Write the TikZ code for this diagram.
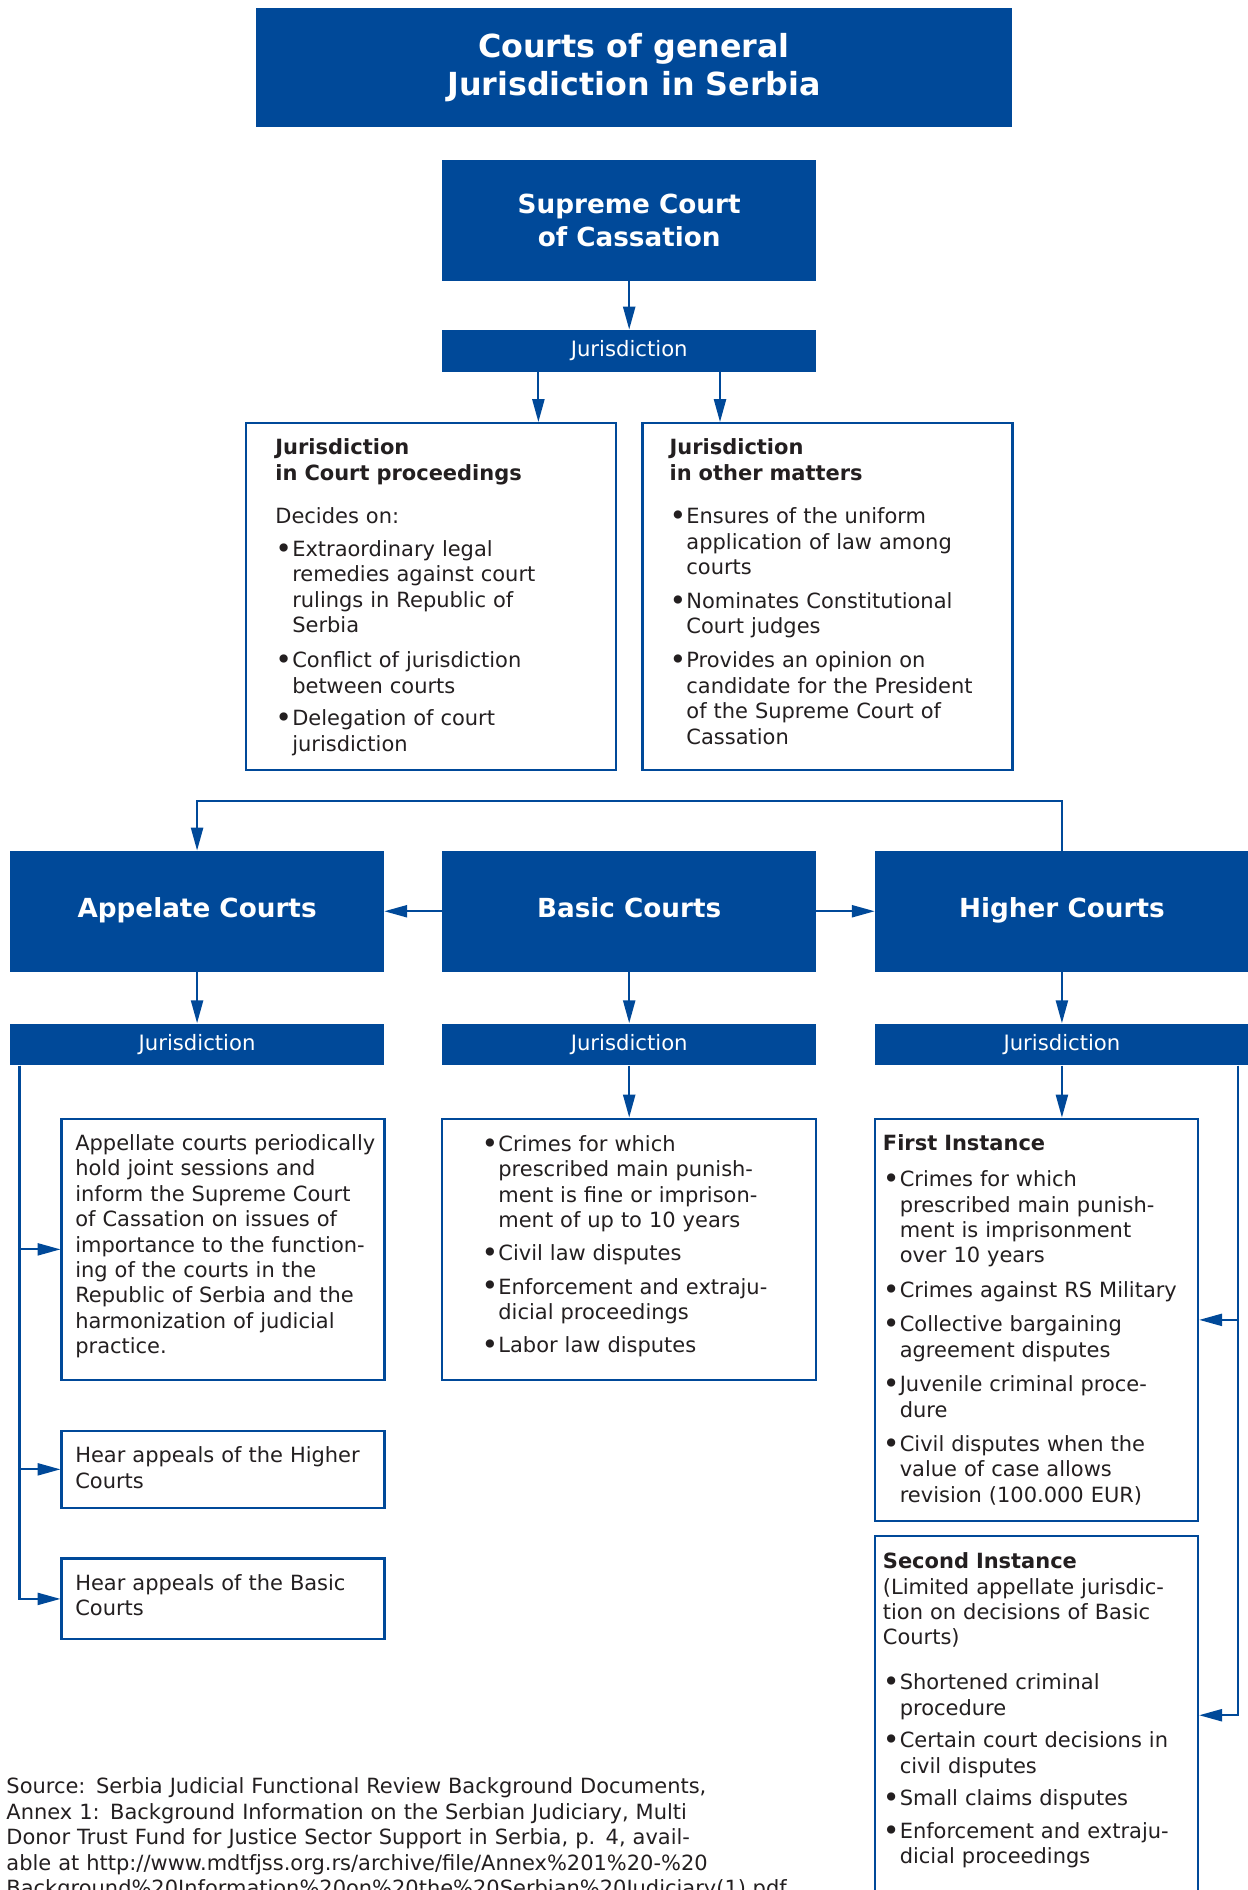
\documentclass[tikz,border=0pt]{standalone}
\usepackage{fontspec}
\setmainfont{DejaVu Sans}
\usepackage{xcolor}
\usepackage{graphicx}
\usetikzlibrary{positioning,arrows.meta}

\definecolor{courtblue}{RGB}{0,73,153}
\definecolor{inkgrey}{RGB}{35,31,32}
\newlength{\bulletw}
\setlength{\bulletw}{0.28cm}
\newcommand{\bitem}[2][0.14cm]{\par\vspace{#1}\hangindent=\bulletw\hangafter=1\noindent
  \makebox[\bulletw][l]{\raisebox{-0.08em}{\scalebox{1.35}{\textbullet}}}{\let\\\newline#2}\par}

\tikzset{
  court/.style={fill=courtblue, text=white, align=center, inner sep=0pt,
    minimum width=6.2cm, minimum height=2cm,
    font=\fontsize{12.4}{15.3}\selectfont\bfseries},
  courtrow/.style={court, text height=0.8em, text depth=0.25em},
  jurbar/.style={fill=courtblue, text=white, inner sep=0pt,
    minimum width=6.2cm, minimum height=0.69cm,
    font=\fontsize{10}{12}\selectfont},
  infobox/.style={draw=courtblue, line width=1pt, fill=white, inner sep=0pt},
  boxtext/.style={text=inkgrey, align=left, inner sep=0pt, text width=6.4cm,
    font=\fontsize{9.9}{12}\selectfont},
  feed/.style={draw=courtblue, line width=1pt, -{Triangle[length=0.38cm,width=0.2cm]}},
}

\begin{document}
\begin{tikzpicture}[x=0.02cm,y=-0.02cm]
\useasboundingbox (0,0) rectangle (1035,1568);

\node[court, minimum width=12.56cm, minimum height=1.96cm,
  font=\fontsize{15}{18.2}\selectfont\bfseries] (title) at (526,56) {Courts of general\\Jurisdiction in Serbia};
\node[court] (supreme) at (522,183) {Supreme Court\\of Cassation};
\node[jurbar] (topbar) at (522,291) {Jurisdiction};

\node[infobox, minimum width=6.14cm, minimum height=5.76cm] (procbox) at (357.5,495) {};
\node[infobox, minimum width=6.14cm, minimum height=5.76cm] (otherbox) at (686.5,495) {};
\node[boxtext, below right=0.274cm and 0.5cm of procbox.north west] (proctext) {%
  {\bfseries Jurisdiction\\in Court proceedings}\par\vspace{0.3cm}
  Decides on:
  \bitem[0.12cm]{Extraordinary legal\\remedies against court\\rulings in Republic of\\Serbia}
  \bitem[0.16cm]{Conflict of jurisdiction\\between courts}
  \bitem[0.12cm]{Delegation of court\\jurisdiction}};
\node[boxtext, below right=0.274cm and 0.46cm of otherbox.north west] (othertext) {%
  {\bfseries Jurisdiction\\in other matters}
  \bitem[0.3cm]{Ensures of the uniform\\application of law among\\courts}
  \bitem{Nominates Constitutional\\Court judges}
  \bitem{Provides an opinion on\\candidate for the President\\of the Supreme Court of\\Cassation}};

\node[courtrow] (appelate) at (163.5,756) {Appelate Courts};
\node[courtrow] (basic) at (522,756) {Basic Courts};
\node[courtrow] (higher) at (881,756) {Higher Courts};
\node[jurbar] (abar) at (163.5,866.5) {Jurisdiction};
\node[jurbar] (bbar) at (522,866.5) {Jurisdiction};
\node[jurbar] (hbar) at (881,866.5) {Jurisdiction};

% appelate courts
\node[infobox, minimum width=5.36cm, minimum height=4.34cm] (pracbox) at (185,1036.5) {};
\node[boxtext, below right=0.274cm and 0.24cm of pracbox.north west] (practext) {%
  Appellate courts periodically\\hold joint sessions and\\inform the Supreme Court\\of Cassation on issues of\\importance to the function-\\ing of the courts in the\\Republic of Serbia and the\\harmonization of judicial\\practice.};
\node[infobox, minimum width=5.36cm, minimum height=1.28cm] (higherapp) at (185,1219) {};
\node[boxtext, below right=0.274cm and 0.24cm of higherapp.north west] (higherapptext) {Hear appeals of the Higher\\Courts};
\node[infobox, minimum width=5.36cm, minimum height=1.34cm] (basicapp) at (185,1326.5) {};
\node[boxtext, below right=0.274cm and 0.24cm of basicapp.north west] (basicapptext) {Hear appeals of the Basic\\Courts};

% basic courts
\node[infobox, minimum width=6.2cm, minimum height=4.34cm] (basicbox) at (522,1036.5) {};
\node[boxtext, below right=0.134cm and 0.66cm of basicbox.north west] (basictext) {%
  \bitem[0pt]{Crimes for which\\prescribed main punish-\\ment is fine or imprison-\\ment of up to 10 years}
  \bitem[0.13cm]{Civil law disputes}
  \bitem[0.13cm]{Enforcement and extraju-\\dicial proceedings}
  \bitem[0.13cm]{Labor law disputes}};

% higher courts
\node[infobox, minimum width=5.36cm, minimum height=6.68cm] (firstbox) at (860,1095) {};
\node[boxtext, below right=0.274cm and 0.14cm of firstbox.north west] (firsttext) {%
  {\bfseries First Instance}
  \bitem[0.18cm]{Crimes for which\\prescribed main punish-\\ment is imprisonment\\over 10 years}
  \bitem[0.15cm]{Crimes against RS Military}
  \bitem[0.15cm]{Collective bargaining\\agreement disputes}
  \bitem[0.15cm]{Juvenile criminal proce-\\dure}
  \bitem[0.15cm]{Civil disputes when the\\value of case allows\\revision (100.000 EUR)}};
\node[infobox, minimum width=5.36cm, minimum height=5.96cm] (secondbox) at (860,1423) {};
\node[boxtext, below right=0.294cm and 0.14cm of secondbox.north west] (secondtext) {%
  {\bfseries Second Instance}\\(Limited appellate jurisdic-\\tion on decisions of Basic\\Courts)
  \bitem[0.32cm]{Shortened criminal\\procedure}
  \bitem[0.12cm]{Certain court decisions in\\civil disputes}
  \bitem[0.12cm]{Small claims disputes}
  \bitem[0.12cm]{Enforcement and extraju-\\dicial proceedings}};

\node[boxtext, text width=13cm, anchor=north west] (source) at (5,1474.7) {%
  Source: Serbia Judicial Functional Review Background Documents,\\Annex 1: Background Information on the Serbian Judiciary, Multi\\Donor Trust Fund for Justice Sector Support in Serbia, p. 4, avail-\\able at http://www.mdtfjss.org.rs/archive/file/Annex\%201\%20-\%20\\Background\%20Information\%20on\%20the\%20Serbian\%20Judiciary(1).pdf};

\draw[feed] (supreme) -- (topbar);
\coordinate (tapl) at ([xshift=1.6cm]topbar.south west);
\coordinate (tapr) at ([xshift=-1.6cm]topbar.south east);
\draw[feed] (tapl) -- (tapl |- procbox.north);
\draw[feed] (tapr) -- (tapr |- otherbox.north);

\draw[feed] (higher.north) -- ++(0,-41) -| (appelate.north);
\draw[feed] (basic.west) -- (appelate.east);
\draw[feed] (basic.east) -- (higher.west);

\draw[feed] (appelate) -- (abar);
\draw[feed] (basic) -- (bbar);
\draw[feed] (higher) -- (hbar);

\coordinate (aleg) at ([xshift=0.16cm]abar.south west);
\draw[feed] (aleg) |- (pracbox.west);
\draw[feed] (aleg) |- (higherapp.west);
\draw[feed] (aleg) |- (basicapp.west);

\draw[feed] (bbar) -- (basicbox);

\coordinate (hleg) at ([xshift=-0.18cm]hbar.south east);
\draw[feed] (hbar.south) -- (hbar.south |- firstbox.north);
\draw[feed] (hleg) |- (firstbox.east);
\draw[feed] (hleg) |- (secondbox.east);

\end{tikzpicture}
\end{document}
